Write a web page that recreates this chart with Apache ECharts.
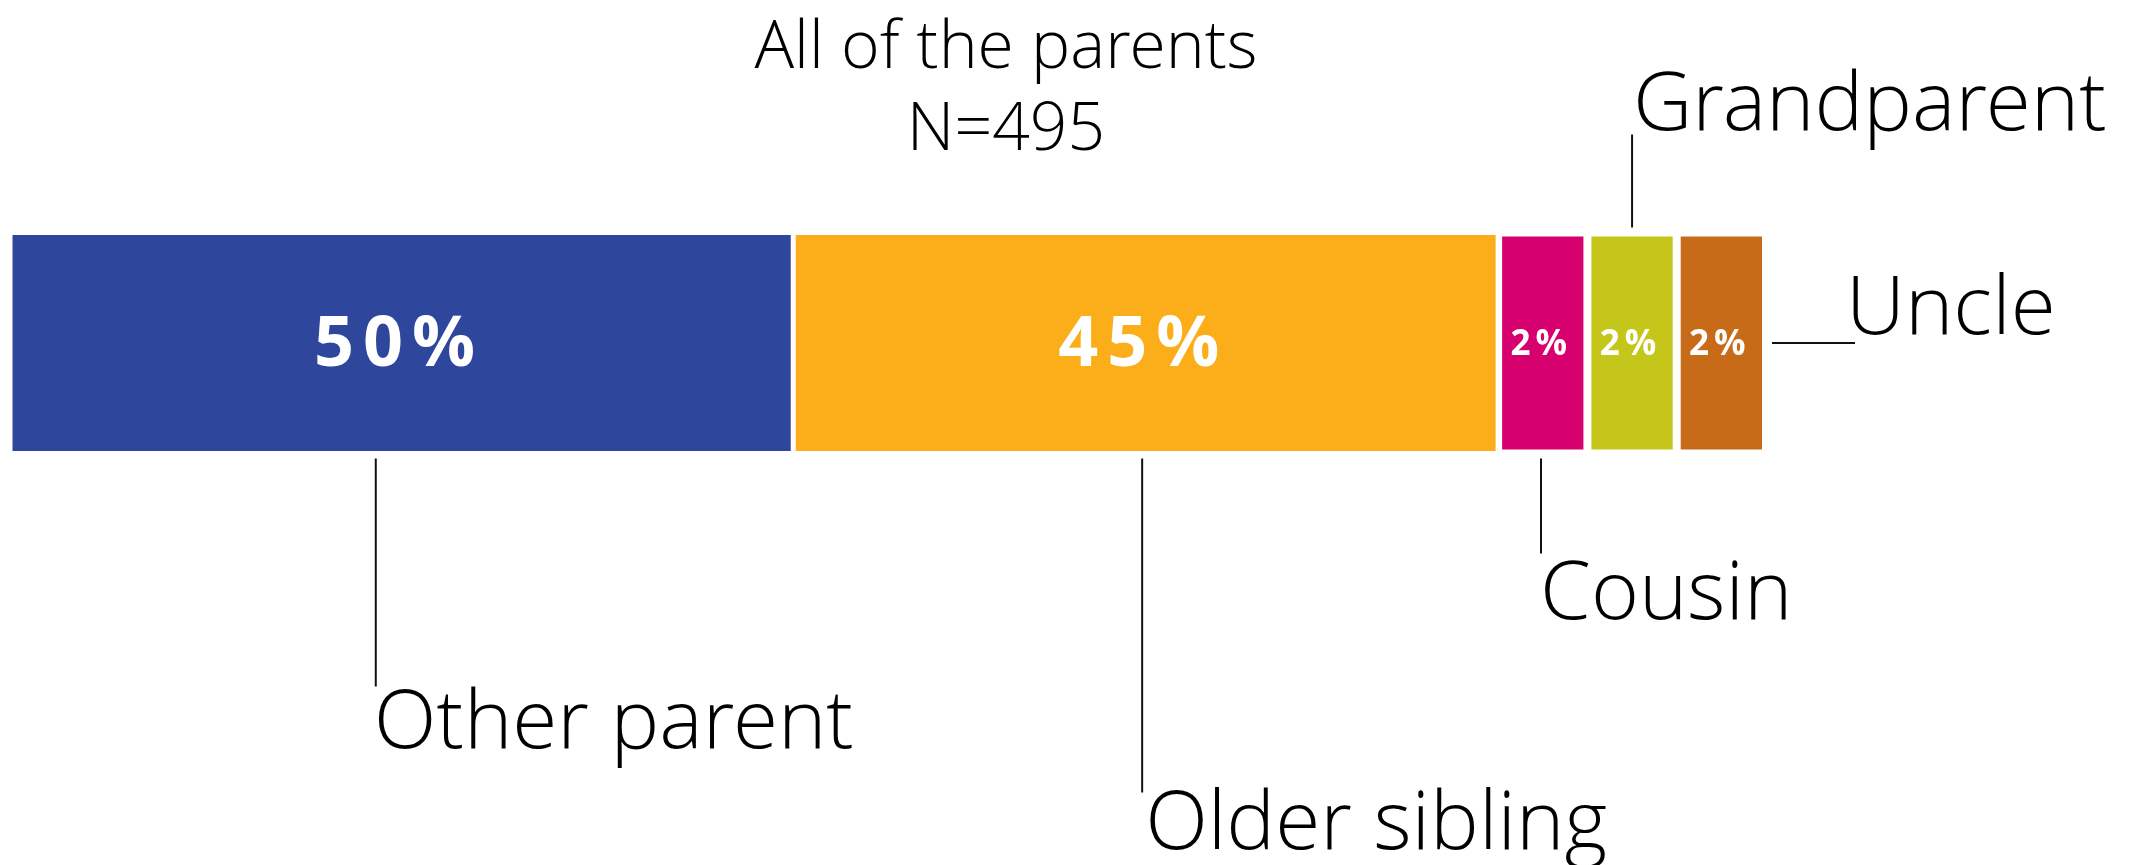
<!DOCTYPE html>
<html>
<head>
<meta charset="utf-8">
<script src="https://cdn.jsdelivr.net/npm/echarts@6/dist/echarts.min.js"></script>
<style>
  html, body { margin: 0; padding: 0; background: #fff; }
  #chart { width: 2136px; height: 865px; }
</style>
</head>
<body>
<div id="chart"></div>
<script>
// data
const categories = ['Other parent', 'Older sibling', 'Cousin', 'Grandparent', 'Uncle']
const shares = [50, 45, 2, 2, 2] // %
const titleLines = ['All of the parents', 'N=495']

// style
const colors = ['#2E469C', '#FBAE19', '#D6006E', '#C5C61A', '#C86B19']
const MIN_SHOWN = 5.7 // tiny slices are drawn wider so their label fits
const LIGHT = "'Open Sans Light', 'Open Sans', sans-serif"
const BAR_W = 221

// where each callout goes: side of the bar, spot along it, line length, label offset
const callouts = [
  { side: 'bottom', at: 0.467, len: 228, dx: -2, dy: 40 },
  { side: 'bottom', at: 0.495, len: 334, dx: 3, dy: 35 },
  { side: 'bottom', at: 0.48, len: 95, dx: -1, dy: 44 },
  { side: 'top', at: 0.5, len: 93, dx: 1, dy: -26 },
  { side: 'right', at: 0.5, len: 83, dx: -9, dy: -30 }
]

const shown = shares.map(v => Math.max(v, MIN_SHOWN))
const total = shown.reduce((a, b) => a + b, 0)

function spaced(str) {
  return str.split('').map(c => '{sp|' + c + '}').join('')
}

const chart = echarts.init(document.getElementById('chart'))

const series = categories.map((name, i) => {
  const small = shares[i] < MIN_SHOWN
  const gap = small ? 2.5 : 4.5
  return {
    name: name,
    type: 'bar',
    stack: 'all',
    barWidth: BAR_W,
    data: [shown[i]],
    itemStyle: {
      color: colors[i],
      borderColor: '#fff',
      borderWidth: small ? 4 : 2.5
    },
    label: {
      show: true,
      position: 'inside',
      offset: small ? [-4, 2] : [-7, 3],
      formatter: () => spaced(shares[i] + '%'),
      rich: {
        sp: {
          fontSize: small ? 35 : 70,
          fontWeight: 'bold',
          fontFamily: "'Open Sans', sans-serif",
          color: '#fff',
          padding: [0, gap, 0, gap]
        }
      }
    },
    silent: true,
    animation: false
  }
})

chart.setOption({
  animation: false,
  grid: { left: 10, width: 1756, top: 233, height: 220 },
  xAxis: { type: 'value', min: 0, max: total, show: false },
  yAxis: { type: 'category', data: ['all'], show: false },
  series: series
})

// callout lines and names, placed from the axes
function drawCallouts() {
  const els = []
  let cum = 0
  const cy = chart.convertToPixel({ gridIndex: 0 }, [0, 0])[1]
  const top = cy - BAR_W / 2
  const bottom = cy + BAR_W / 2
  categories.forEach((name, i) => {
    const x0 = chart.convertToPixel({ gridIndex: 0 }, [cum, 0])[0]
    cum += shown[i]
    const x1 = chart.convertToPixel({ gridIndex: 0 }, [cum, 0])[0]
    const c = callouts[i]
    let line, tx, ty
    if (c.side === 'bottom') {
      const x = x0 + (x1 - x0) * c.at
      line = { x1: x, y1: bottom + 5, x2: x, y2: bottom + 5 + c.len }
      tx = x + c.dx
      ty = line.y2 + c.dy
    } else if (c.side === 'top') {
      const x = x0 + (x1 - x0) * c.at
      line = { x1: x, y1: top - 5, x2: x, y2: top - 5 - c.len }
      tx = x + c.dx
      ty = line.y2 + c.dy
    } else {
      line = { x1: x1 + 6, y1: cy, x2: x1 + 6 + c.len, y2: cy }
      tx = line.x2 + c.dx
      ty = cy + c.dy
    }
    els.push({ type: 'line', shape: line, style: { stroke: '#111', lineWidth: 2 }, silent: true })
    els.push({
      type: 'text',
      style: {
        text: name, x: tx, y: ty,
        fontSize: 82, fontWeight: 300, fontFamily: LIGHT,
        fill: '#000', align: 'left', verticalAlign: 'middle'
      },
      silent: true
    })
  })
  els.push({
    type: 'text',
    style: {
      text: titleLines.join('\n'), x: 1006, y: 10,
      fontSize: 66, fontWeight: 300, fontFamily: LIGHT, lineHeight: 82,
      fill: '#000', align: 'center', verticalAlign: 'top'
    },
    silent: true
  })
  chart.setOption({ graphic: { elements: els } })
}
drawCallouts()
</script>
</body>
</html>
